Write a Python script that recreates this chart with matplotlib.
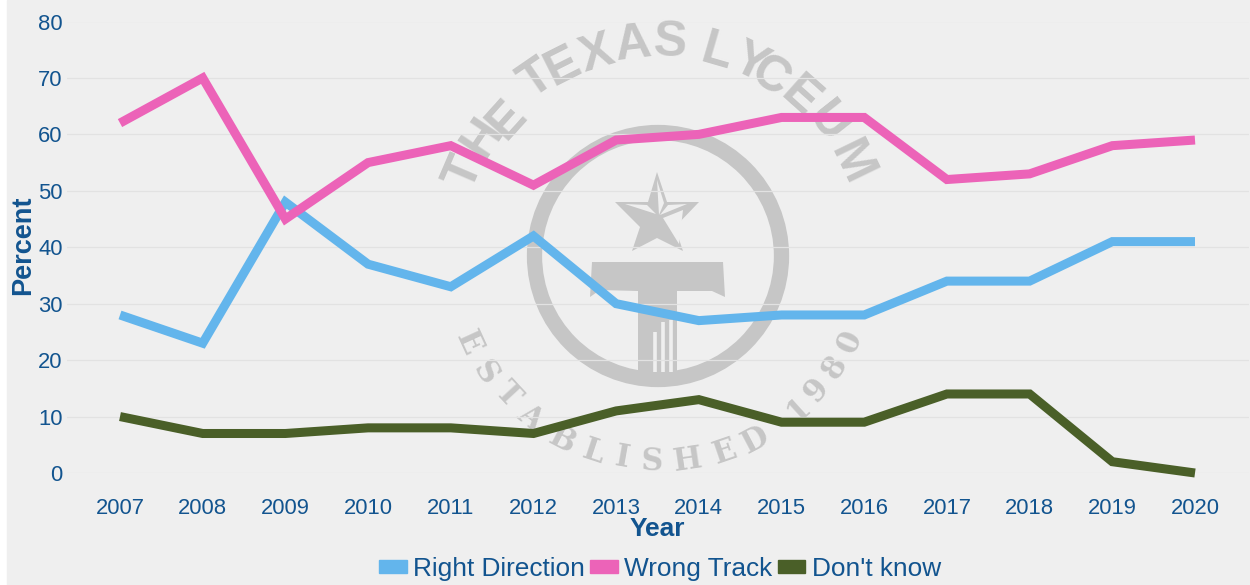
import matplotlib.pyplot as plt
import numpy as np
from matplotlib.patches import Circle, Polygon, Rectangle, Patch

plt.rcParams['font.family'] = ['Liberation Sans', 'DejaVu Sans']

years = list(range(2007, 2021))
right_direction = [28, 23, 48, 37, 33, 42, 30, 27, 28, 28, 34, 34, 41, 41]
wrong_track = [62, 70, 45, 55, 58, 51, 59, 60, 63, 63, 52, 53, 58, 59]
dont_know = [10, 7, 7, 8, 8, 7, 11, 13, 9, 9, 14, 14, 2, 0]
y_ticks = list(range(0, 90, 10))

BLUE = '#63b5ec'
PINK = '#ec63b8'
GREEN = '#4a5f28'
TEXT = '#12548f'
BG = '#efefef'
GREY = '#c6c6c6'
W, H = 1250, 585

# seal letters, (char, x, y) in picture pixels
seal_center = (658, 256)
top_letters = [('T', 465, 173), ('H', 483, 138), ('E', 507, 120), ('T', 537, 80),
               ('E', 563, 67), ('X', 597, 55), ('A', 633, 45), ('S', 670, 43),
               ('L', 717, 53), ('Y', 750, 63), ('C', 770, 78), ('E', 800, 97),
               ('U', 827, 123), ('M', 850, 163)]
low_letters = [('E', 468, 343), ('S', 485, 373), ('T', 508, 395), ('A', 530, 418),
               ('B', 562, 440), ('L', 593, 452), ('I', 622, 458), ('S', 652, 462),
               ('H', 688, 460), ('E', 725, 452), ('D', 755, 440), ('1', 798, 410),
               ('9', 817, 390), ('8', 835, 367), ('0', 850, 342)]

fig = plt.figure(figsize=(W / 100, H / 100), dpi=100, facecolor='white')
fig.add_artist(Rectangle((7 / W, 0), 1 - 7 / W, 1, transform=fig.transFigure, color=BG, zorder=-5))

# watermark layer in pixel coords, sits under the chart
wm = fig.add_axes([0, 0, 1, 1], zorder=0)
wm.set_xlim(0, W)
wm.set_ylim(H, 0)
wm.axis('off')
wm.add_patch(Circle(seal_center, 123.5, fill=False, ec=GREY, lw=11))

star = [(657, 172), (667, 202), (699, 202), (675, 227), (683, 251), (657, 238),
        (632, 251), (640, 227), (615, 202), (648, 202)]
wm.add_patch(Polygon(star, fc=GREY, ec='none'))
star_holes = [[(657, 180), (664, 203), (659, 215)],
              [(625, 204), (647, 205), (656, 214)],
              [(668, 205), (687, 204), (660, 215)],
              [(663, 218), (683, 210), (679, 244)]]
for hole in star_holes:
    wm.add_patch(Polygon(hole, fc=BG, ec='none'))

wm.add_patch(Polygon([(592, 262), (723, 262), (725, 297), (712, 291), (677, 291), (677, 372),
                      (638, 372), (638, 291), (600, 290), (590, 297)], fc=GREY, ec='none'))
for fx, ftop in [(655, 332), (663, 322), (671, 320)]:
    wm.plot([fx, fx], [ftop, 372], color=BG, lw=2.6, solid_capstyle='butt')

for ch, x, y in top_letters:
    ang = np.degrees(np.arctan2(x - seal_center[0], seal_center[1] - y))
    wm.text(x, y, ch, color=GREY, fontsize=36, family='Liberation Sans', fontweight='bold',
            rotation=-ang, rotation_mode='anchor', ha='center', va='center')
for ch, x, y in low_letters:
    ang = np.degrees(np.arctan2(x - seal_center[0], y - seal_center[1]))
    wm.text(x, y, ch, color=GREY, fontsize=22, family='DejaVu Serif', fontweight='bold',
            rotation=ang, rotation_mode='anchor', ha='center', va='center')

# main chart
x0, x1 = 67, 1249
y0, y1 = 473, 21.5
ax = fig.add_axes([x0 / W, 1 - y0 / H, (x1 - x0) / W, (y0 - y1) / H], zorder=1)
ax.patch.set_visible(False)
step = (1195 - 120) / 13
ax.set_xlim(2007 - (120 - x0) / step, 2020 + (x1 - 1195) / step)
ax.set_ylim(0, 80)

ax.plot(years, right_direction, color=BLUE, lw=6.5, solid_joinstyle='miter', solid_capstyle='butt', clip_on=False, zorder=3)
ax.plot(years, wrong_track, color=PINK, lw=6.5, solid_joinstyle='miter', solid_capstyle='butt', clip_on=False, zorder=3)
ax.plot(years, dont_know, color=GREEN, lw=6.5, solid_joinstyle='miter', solid_capstyle='butt', clip_on=False, zorder=3)

ax.set_yticks(y_ticks)
ax.set_xticks(years)
ax.grid(axis='y', color='#e2e2e2', lw=0.9)
ax.set_axisbelow(True)
for s in ax.spines.values():
    s.set_visible(False)
ax.tick_params(axis='both', length=0, labelsize=15.8, labelcolor=TEXT)
ax.tick_params(axis='x', pad=18)
ax.tick_params(axis='y', pad=3)

fig.text(23 / W, 1 - 245 / H, 'Percent', rotation=90, ha='center', va='center', color=TEXT, fontsize=19.5, fontweight='bold')
fig.text(657 / W, 1 - 529 / H, 'Year', ha='center', va='center', color=TEXT, fontsize=19, fontweight='bold')

handles = [Patch(color=BLUE), Patch(color=PINK), Patch(color=GREEN)]
fig.legend(handles, ['Right Direction', 'Wrong Track', "Don't know"], loc='center',
           bbox_to_anchor=(660 / W, 1 - 569 / H), ncol=3, frameon=False, fontsize=18.9,
           labelcolor=TEXT, handlelength=1.05, handleheight=0.35, handletextpad=0.25, columnspacing=0.2)

fig.savefig('out.png', dpi=100, facecolor=fig.get_facecolor())
